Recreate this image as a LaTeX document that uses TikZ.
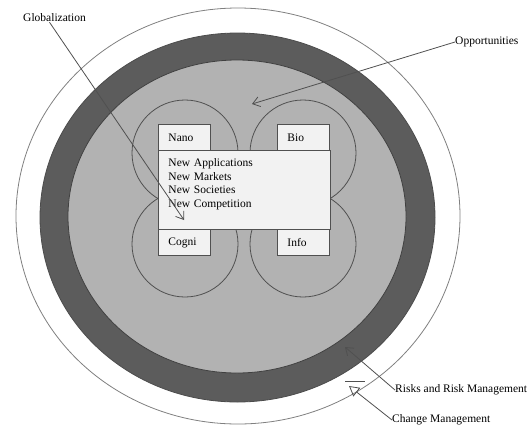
\documentclass[tikz,border=0pt]{standalone}
\usepackage{fontspec}
\setmainfont{Liberation Serif}
\usetikzlibrary{arrows.meta, positioning, calc}

\definecolor{ringgray}{RGB}{92,92,92}
\definecolor{coregray}{RGB}{178,178,178}
\definecolor{linegray}{RGB}{80,80,80}
\definecolor{boxwhite}{RGB}{242,242,242}

\begin{document}
\begin{tikzpicture}[
  x=1pt, y=-1pt,
  tag/.style={anchor=west, inner sep=0pt, font=\fontsize{11.5}{13.5}\selectfont},
  field/.style={rectangle, anchor=north west, draw=linegray, fill=boxwhite, line width=0.9pt,
    inner xsep=10pt, inner ysep=0pt, text width=32pt, minimum height=26pt, align=left,
    font=\fontsize{11.5}{13.5}\selectfont},
  core/.style={field, text width=152pt, minimum height=79pt},
  orbit/.style={draw=linegray, line width=0.8pt},
  lead/.style={draw=linegray, line width=0.8pt},
  barb/.style={lead, -{Straight Barb[length=7pt, width=10pt]}},
  hollow/.style={lead, -{Triangle[open, length=10pt, width=11pt]}}
]
\useasboundingbox (0,0) rectangle (527,429);

% rings
\draw[draw=gray, line width=0.8pt, fill=white] (238,216) ellipse (222 and 208);
\draw[draw=black!70, line width=0.8pt, fill=ringgray] (237.5,217.5) ellipse (197.5 and 184.5);
\draw[draw=black!75, line width=0.8pt, fill=coregray] (237,216.5) ellipse (169 and 156.5);

% technology circles
\draw[orbit] (185,153) circle (53);
\draw[orbit] (303,153) circle (53);
\draw[orbit] (185,244) circle (53);
\draw[orbit] (303,244) circle (53);

% boxes
\node (nano) [field] at (158,124) {Nano};
\node (bio) [field] at (277,124) {Bio};
\node (cogni) [field] at (158,229) {Cogni};
\node (info) [field] at (277,229) {Info};
\node (center) [core] at (158,150) {New Applications\\New Markets\\New Societies\\New Competition\\ \mbox{}};

% labels
\node (glob) [tag] at (23,18) {Globalization};
\node (opp) [tag] at (455,42) {Opportunities};
\node (risk) [tag] at (395,390) {Risks and Risk Management};
\node (change) [tag] at (392,420) {Change Management};

\coordinate (globtip) at (184,220);
\coordinate (opptip) at (252,104);
\coordinate (risktip) at (345,347);
\coordinate (changetip) at (349,386);

\draw [barb] ([xshift=-5pt]glob.south) -- (globtip);
\draw [barb] (opp.west) -- (opptip);
\draw [barb] (risk.west) -- (risktip);
\draw [hollow] (change.west) -- (changetip);
\draw [lead] ([shift={(-4,-5)}]changetip) -- ++(20,0);

\end{tikzpicture}
\end{document}
